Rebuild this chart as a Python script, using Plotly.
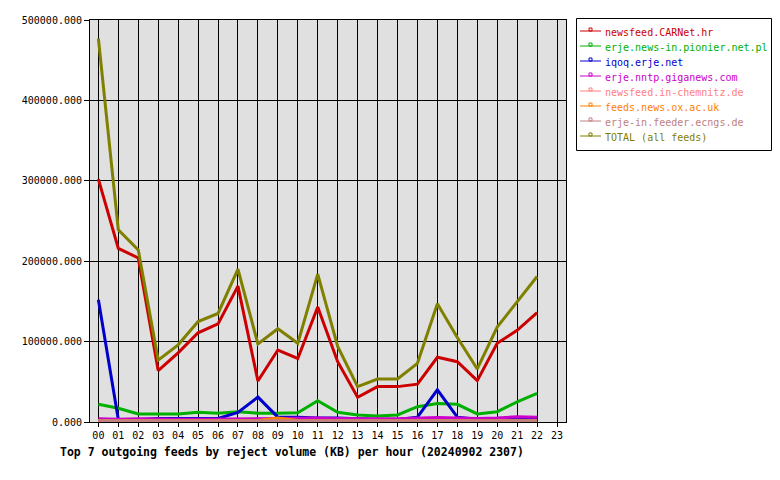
import plotly.graph_objects as go

hours = list(range(23))
tick_labels = [f"{h:02d}" for h in range(24)]

feed_names = [
    "newsfeed.CARNet.hr",
    "erje.news-in.pionier.net.pl",
    "iqoq.erje.net",
    "erje.nntp.giganews.com",
    "newsfeed.in-chemnitz.de",
    "feeds.news.ox.ac.uk",
    "erje-in.feeder.ecngs.de",
    "TOTAL (all feeds)",
]
feed_colors = ["#cc0000", "#00b000", "#0000cc", "#cc00cc",
               "#ff8080", "#ff8000", "#c08080", "#808000"]

carnet = [302000, 216000, 204000, 64000, 86000, 111000, 122000, 169000, 51000, 89500, 79000,
          143000, 75000, 30700, 44000, 44000, 47000, 80500, 75000, 51500, 98000, 114000, 136000]
pionier = [22000, 17000, 10000, 10000, 10000, 12000, 11000, 12800, 11000, 11000, 11500,
           26500, 12000, 8700, 7500, 8700, 19000, 23000, 22000, 10000, 12800, 25000, 35700]
iqoq = [152000, 3000, 3000, 4500, 4500, 4500, 4500, 12000, 31000, 6000, 6000,
        5000, 5000, 4000, 3000, 3000, 6000, 40000, 6000, 3500, 4500, 3000, 3000]
giganews = [4000, 3500, 4000, 3500, 3500, 3500, 3500, 3500, 4000, 4500, 5000,
            5000, 4500, 4000, 4000, 4000, 4500, 5500, 5000, 4500, 5000, 6500, 6000]
chemnitz = [1200] * 23
oxac = [1500, 1500, 1500, 1500, 1500, 1500, 1500, 1500, 2000, 5000, 2000,
        1500, 1500, 1500, 1500, 1500, 1500, 1500, 1500, 1500, 1500, 1500, 1500]
ecngs = [1500] * 23
total = [477000, 239000, 214000, 77000, 96000, 125000, 135000, 190000, 97000, 116000, 98000,
         184000, 94000, 44000, 53500, 53500, 73000, 147000, 105000, 66000, 118000, 149000, 181000]

series = [carnet, pionier, iqoq, giganews, chemnitz, oxac, ecngs, total]

MONO = "DejaVu Sans Mono"
W, H = 780, 480
PL, PR, PT, PB = 90, 566, 20, 422

fig = go.Figure()
for name, col, vals in zip(feed_names, feed_colors, series):
    fig.add_trace(go.Scatter(x=hours, y=vals, name=name, mode="lines",
                             line=dict(color=col, width=3), showlegend=False))

def px(x):
    return (x - PL) / (PR - PL)

def py(y):
    return (PB - y) / (PB - PT)

shapes = []
annotations = []
# legend box
shapes.append(dict(type="rect", xref="paper", yref="paper",
                   x0=px(576.5), x1=px(771.5), y0=py(150.5), y1=py(18.5),
                   line=dict(color="black", width=1), fillcolor="white"))
for i, (name, col) in enumerate(zip(feed_names, feed_colors)):
    yc = 32.5 + 15 * i
    yl = yc - 1.5
    shapes.append(dict(type="line", xref="paper", yref="paper",
                       x0=px(580), x1=px(601), y0=py(yl), y1=py(yl),
                       line=dict(color=col, width=1)))
    shapes.append(dict(type="rect", xref="paper", yref="paper",
                       x0=px(589), x1=px(592), y0=py(yl), y1=py(yl - 3),
                       line=dict(color=col, width=1)))
    annotations.append(dict(text=name, xref="paper", yref="paper",
                            x=px(603), y=py(yc), xanchor="left", yanchor="middle",
                            showarrow=False, font=dict(family=MONO, size=10, color=col)))

annotations.append(dict(text="<b>Top 7 outgoing feeds by reject volume (KB) per hour (20240902 2307)</b>",
                        xref="paper", yref="paper", x=px(58), y=py(452),
                        xanchor="left", yanchor="middle", showarrow=False,
                        font=dict(family=MONO, size=11.5, color="black")))

fig.update_layout(
    width=W, height=H,
    margin=dict(l=PL, r=W - PR, t=PT, b=H - PB, pad=0),
    paper_bgcolor="white", plot_bgcolor="#e0e0e0",
    shapes=shapes, annotations=annotations, showlegend=False,
    font=dict(family=MONO, size=10, color="black"),
)
fig.update_xaxes(range=[-0.42, 23.45], tickvals=list(range(24)), ticktext=tick_labels,
                 showgrid=True, gridcolor="black", gridwidth=1,
                 showline=True, linecolor="black", linewidth=1, mirror=True,
                 ticks="outside", ticklen=4, tickcolor="black", zeroline=False,
                 tickfont=dict(family=MONO, size=10, color="black"))
fig.update_yaxes(range=[0, 500000], dtick=100000, tickformat=".3f",
                 showgrid=True, gridcolor="black", gridwidth=1,
                 showline=True, linecolor="black", linewidth=1, mirror=True,
                 ticks="outside", ticklen=5, tickcolor="black", zeroline=False,
                 tickfont=dict(family=MONO, size=10, color="black"))

fig.write_html("out.html")
